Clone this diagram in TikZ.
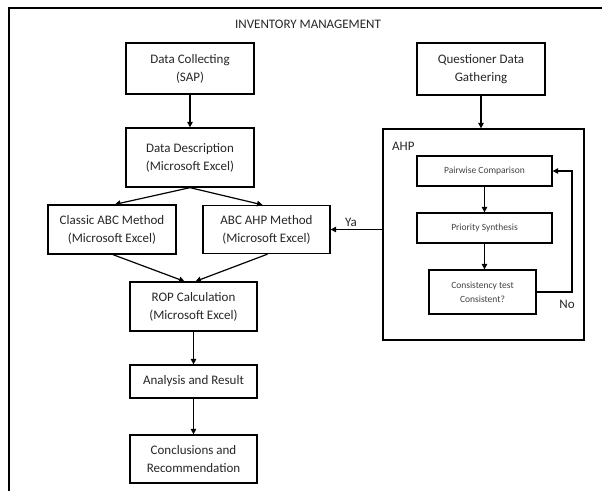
\documentclass[tikz,border=0pt]{standalone}
\usepackage{fontspec}
\setmainfont{Carlito}
\usetikzlibrary{arrows.meta,calc}
\tikzset{
  box/.style={draw=black, line width=1.3pt, inner sep=0pt, align=center,
    text=black!85, font=\fontsize{13}{18}\selectfont},
  smallbox/.style={draw=black, line width=1.3pt, inner sep=0pt, align=center,
    text=black!75, font=\fontsize{9.5}{14}\selectfont},
  conn/.style={line width=1.2pt, -{Triangle[length=5.5pt,width=5.5pt]}},
  lbl/.style={inner sep=0pt, text=black!85, font=\fontsize{13}{16}\selectfont}
}
\begin{document}
\begin{tikzpicture}[x=1pt,y=-1pt]
\useasboundingbox (0,0) rectangle (602,491);
% outer frame (cut off on right and bottom)
\draw[line width=1.3pt] (602,8) -- (9,8) -- (9,491);
\node[lbl] (title) at (308,24) {INVENTORY MANAGEMENT};

\node[box, minimum width=128pt, minimum height=51pt] (dc) at (190,68.5) {Data Collecting\\(SAP)};
\node[box, minimum width=128pt, minimum height=52pt] (qd) at (481,69) {Questioner Data\\Gathering};
\node[box, minimum width=128pt, minimum height=59pt] (dd) at (190,157.5) {Data Description\\(Microsoft Excel)};
\node[box, minimum width=128pt, minimum height=49pt] (classic) at (112,229.5) {Classic ABC Method\\(Microsoft Excel)};
\node[box, minimum width=127pt, minimum height=48pt] (abcahp) at (266.5,229.5) {ABC AHP Method\\(Microsoft Excel)};
\node[box, minimum width=127pt, minimum height=49pt] (rop) at (193.5,306.5) {ROP Calculation\\(Microsoft Excel)};
\node[box, minimum width=127pt, minimum height=33pt] (ar) at (193.5,381.5) {Analysis and Result};
\node[box, minimum width=127pt, minimum height=48pt] (cr) at (193.5,459) {Conclusions and\\Recommendation};

% AHP container
\node[draw=black, line width=1.3pt, minimum width=201pt, minimum height=211pt, inner sep=0pt] (ahp) at (483.5,234.5) {};
\node[lbl, anchor=west] (ahplbl) at (392,146) {AHP};
\node[smallbox, minimum width=135pt, minimum height=30pt] (pc) at (484.5,171) {Pairwise Comparison};
\node[smallbox, minimum width=135pt, minimum height=30pt] (ps) at (484.5,228) {Priority Synthesis};
\node[smallbox, minimum width=107pt, minimum height=44pt] (ct) at (482.5,292) {Consistency test\\Consistent?};
\node[lbl] (no) at (567,304) {No};
\node[lbl] (ya) at (351,222) {Ya};
\coordinate (loopR) at (572,292);

% connectors
\draw[conn] (dc.south) -- (dd.north);
\draw[conn] (qd.south) -- (qd.south |- ahp.north);
\draw[conn] (dd.south) -- ($(classic.north)+(3,0)$);
\draw[conn] (dd.south) -- ($(abcahp.north)+(-4,0)$);
\draw[conn] ($(classic.south)+(1,0)$) -- ($(rop.north)+(-9,0)$);
\draw[conn] ($(abcahp.south)+(1,0)$) -- ($(rop.north)+(2,0)$);
\draw[conn] (rop.south) -- (ar.north);
\draw[conn] (ar.south) -- (cr.north);
\draw[conn] (ahp.west |- abcahp.east) -- (abcahp.east);
\draw[conn] (pc.south) -- (ps.north);
\draw[conn] (ps.south) -- (ps.south |- ct.north);
\draw[conn] (ct.east) -- (loopR) |- (pc.east);
\end{tikzpicture}
\end{document}
